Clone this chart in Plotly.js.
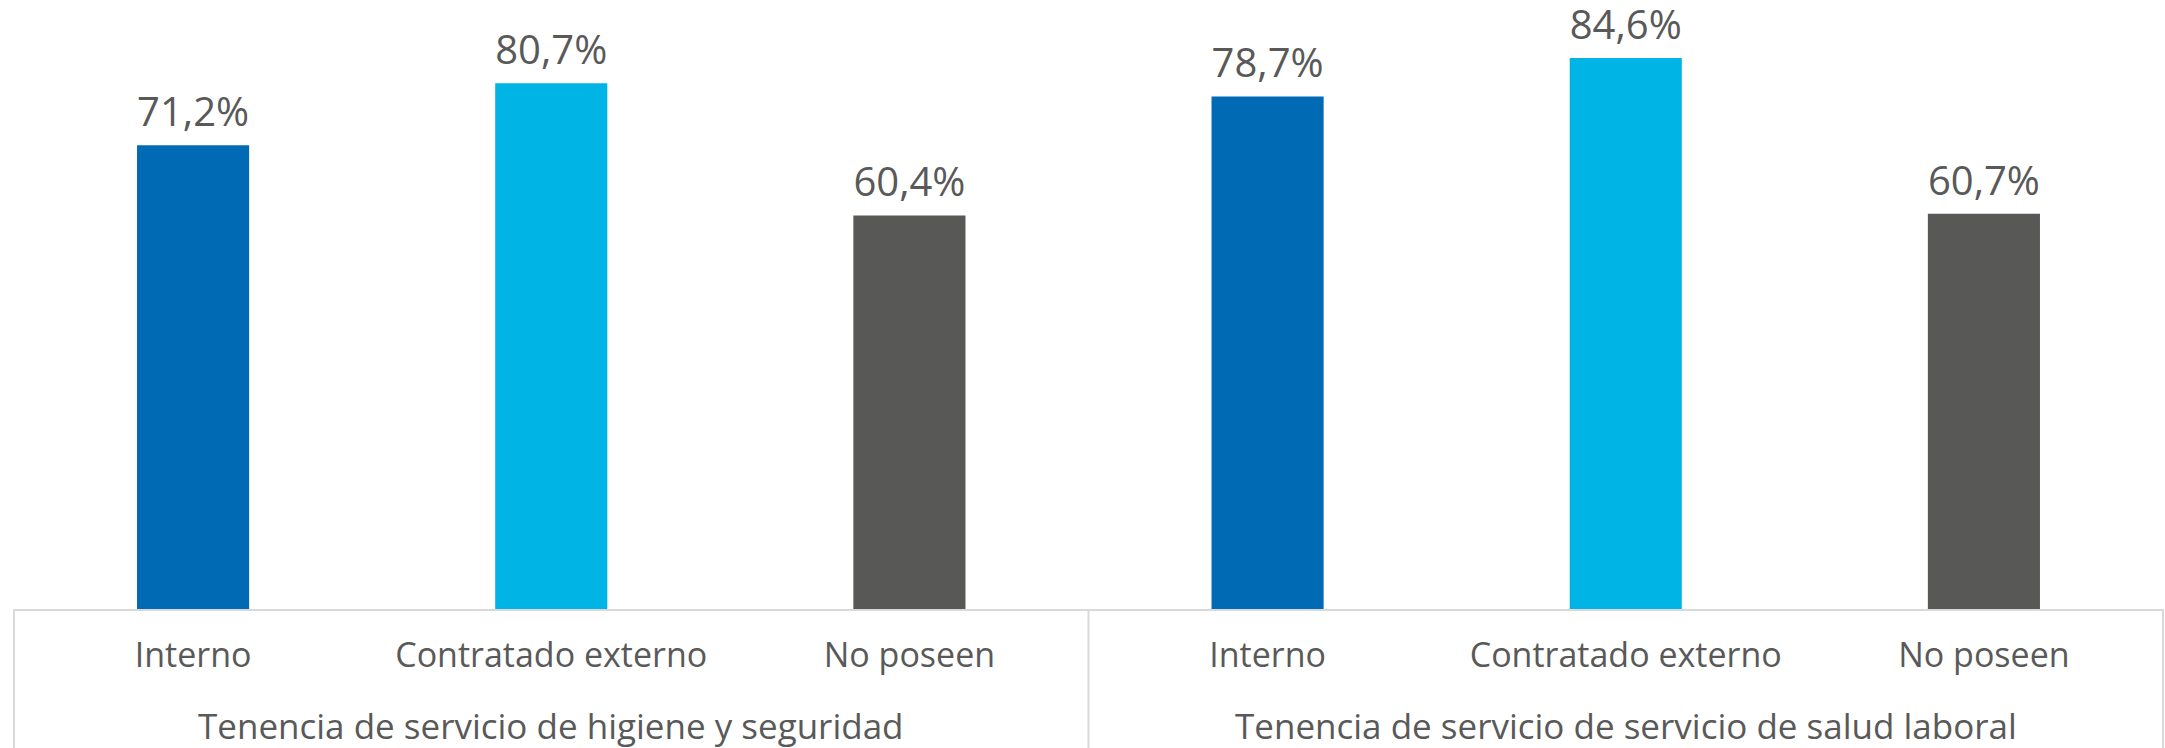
<!DOCTYPE html>
<html>
<head>
<meta charset="utf-8">
<script src="https://cdn.plot.ly/plotly-3.0.1.min.js"></script>
<style>html,body{margin:0;padding:0;background:#fff;}</style>
</head>
<body>
<div id="chart" style="width:2165px;height:748px;"></div>
<script>
const groups = ["Tenencia de servicio de higiene y seguridad", "Tenencia de servicio de servicio de salud laboral"];
const categories = ["Interno", "Contratado externo", "No poseen"];
const hygieneValues = [71.2, 80.7, 60.4];
const healthValues = [78.7, 84.6, 60.7];
const categoryColors = ["#006BB4", "#00B4E6", "#585857"];

const seriesByGroup = [hygieneValues, healthValues];
const keys = [], labels = [], values = [], colors = [];
groups.forEach((g, gi) => {
  categories.forEach((c, ci) => {
    keys.push(g + "::" + c);
    labels.push(c);
    values.push(seriesByGroup[gi][ci]);
    colors.push(categoryColors[ci]);
  });
});

const fmt = v => v.toFixed(1).replace(".", ",") + "%";
const textColor = "#595959";
const fontFamily = "'Open Sans', sans-serif";

const bars = {
  type: "bar",
  x: keys,
  y: values,
  marker: {color: colors},
  hoverinfo: "skip",
  showlegend: false
};
const valueLabels = {
  type: "scatter",
  mode: "markers+text",
  x: keys,
  y: values,
  text: values.map(fmt),
  textposition: "top center",
  textfont: {family: fontFamily, size: 40, color: textColor},
  marker: {size: 13, opacity: 0},
  cliponaxis: false,
  hoverinfo: "skip",
  showlegend: false
};

const annotations = groups.map((g, gi) => ({
  text: g,
  xref: "paper",
  yref: "paper",
  x: (gi + 0.5) / groups.length,
  y: -0.1905,
  xanchor: "center",
  yanchor: "middle",
  showarrow: false,
  font: {family: fontFamily, size: 35, color: textColor}
}));

const lineColor = "#D9D9D9";
const shapes = [0, 0.5, 1].map(px => ({
  type: "line",
  xref: "paper",
  yref: "paper",
  x0: px, x1: px,
  y0: 0, y1: -0.3,
  line: {color: lineColor, width: 2}
}));

const layout = {
  width: 2165,
  height: 748,
  margin: {l: 14, r: 2, t: 0, b: 139, pad: 0},
  paper_bgcolor: "#ffffff",
  plot_bgcolor: "#ffffff",
  bargap: 0.687,
  font: {family: fontFamily, color: textColor},
  xaxis: {
    type: "category",
    tickvals: keys,
    ticktext: labels,
    tickfont: {family: fontFamily, size: 34, color: textColor},
    ticks: "",
    ticklabelstandoff: 15,
    showline: true,
    linecolor: lineColor,
    linewidth: 2,
    showgrid: false,
    zeroline: false,
    fixedrange: true
  },
  yaxis: {
    range: [0, 93.5],
    visible: false,
    showgrid: false,
    zeroline: false,
    fixedrange: true
  },
  annotations: annotations,
  shapes: shapes
};

Plotly.newPlot("chart", [bars, valueLabels], layout, {displayModeBar: false, staticPlot: true});
</script>
</body>
</html>
